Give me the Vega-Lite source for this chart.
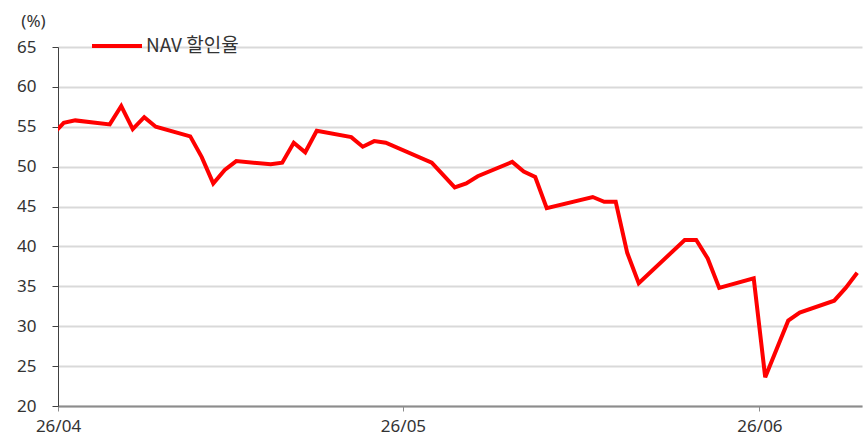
{
  "$schema": "https://vega.github.io/schema/vega-lite/v6.json",
  "width": 804,
  "height": 359,
  "padding": {"left": 58, "top": 47, "right": 2, "bottom": 32},
  "autosize": {"type": "none"},
  "background": "white",
  "data": {
    "values": [
      {"date": "2026-04-01", "v": 54.0},
      {"date": "2026-04-02", "v": 55.5},
      {"date": "2026-04-03", "v": 55.8},
      {"date": "2026-04-06", "v": 55.3},
      {"date": "2026-04-07", "v": 57.6},
      {"date": "2026-04-08", "v": 54.7},
      {"date": "2026-04-09", "v": 56.2},
      {"date": "2026-04-10", "v": 55.0},
      {"date": "2026-04-13", "v": 53.8},
      {"date": "2026-04-14", "v": 51.2},
      {"date": "2026-04-15", "v": 47.9},
      {"date": "2026-04-16", "v": 49.6},
      {"date": "2026-04-17", "v": 50.7},
      {"date": "2026-04-20", "v": 50.3},
      {"date": "2026-04-21", "v": 50.5},
      {"date": "2026-04-22", "v": 53.0},
      {"date": "2026-04-23", "v": 51.8},
      {"date": "2026-04-24", "v": 54.5},
      {"date": "2026-04-27", "v": 53.7},
      {"date": "2026-04-28", "v": 52.5},
      {"date": "2026-04-29", "v": 53.2},
      {"date": "2026-04-30", "v": 53.0},
      {"date": "2026-05-04", "v": 50.5},
      {"date": "2026-05-06", "v": 47.4},
      {"date": "2026-05-07", "v": 47.9},
      {"date": "2026-05-08", "v": 48.8},
      {"date": "2026-05-11", "v": 50.6},
      {"date": "2026-05-12", "v": 49.4},
      {"date": "2026-05-13", "v": 48.7},
      {"date": "2026-05-14", "v": 44.8},
      {"date": "2026-05-18", "v": 46.2},
      {"date": "2026-05-19", "v": 45.6},
      {"date": "2026-05-20", "v": 45.6},
      {"date": "2026-05-21", "v": 39.2},
      {"date": "2026-05-22", "v": 35.4},
      {"date": "2026-05-26", "v": 40.8},
      {"date": "2026-05-27", "v": 40.8},
      {"date": "2026-05-28", "v": 38.5},
      {"date": "2026-05-29", "v": 34.8},
      {"date": "2026-06-01", "v": 36.0},
      {"date": "2026-06-02", "v": 23.6},
      {"date": "2026-06-04", "v": 30.7},
      {"date": "2026-06-05", "v": 31.7},
      {"date": "2026-06-08", "v": 33.2},
      {"date": "2026-06-09", "v": 34.8},
      {"date": "2026-06-10", "v": 36.7}
    ]
  },
  "mark": {"type": "line", "strokeWidth": 4, "clip": true, "strokeJoin": "miter", "strokeMiterLimit": 3},
  "encoding": {
    "x": {
      "field": "date",
      "type": "temporal",
      "scale": {
        "type": "utc",
        "domain": [
          {"year": 2026, "month": 4, "date": 1, "hours": 12, "utc": true},
          {"year": 2026, "month": 6, "date": 10, "hours": 10, "utc": true}
        ]
      },
      "axis": {
        "title": null,
        "values": [
          {"year": 2026, "month": 4, "date": 1, "hours": 12, "utc": true},
          {"year": 2026, "month": 5, "date": 1, "hours": 12, "utc": true},
          {"year": 2026, "month": 6, "date": 1, "hours": 12, "utc": true}
        ],
        "labelExpr": "utcFormat(datum.value, '%y/%m')",
        "grid": false,
        "domainColor": "#8c8c8c",
        "domainWidth": 2,
        "tickColor": "#8c8c8c",
        "tickSize": 5,
        "tickWidth": 1,
        "labelPadding": 7,
        "labelFont": "Noto Sans",
        "labelFontSize": 17,
        "labelColor": "#333333",
        "labelFlush": false
      }
    },
    "y": {
      "field": "v",
      "type": "quantitative",
      "scale": {"domain": [20, 65], "nice": false, "zero": false},
      "axis": {
        "values": [20, 25, 30, 35, 40, 45, 50, 55, 60, 65],
        "title": "(%)",
        "titleAngle": 0,
        "titleX": -25,
        "titleY": -26,
        "titleAlign": "center",
        "titleBaseline": "middle",
        "titleFont": "Noto Sans",
        "titleFontSize": 17,
        "titleFontWeight": "normal",
        "titleColor": "#333333",
        "grid": true,
        "gridColor": "#d9d9d9",
        "gridWidth": 2,
        "domainColor": "#404040",
        "domainWidth": 1,
        "tickColor": "#404040",
        "tickSize": 6,
        "labelPadding": 16,
        "labelFont": "Noto Sans",
        "labelFontSize": 17,
        "labelColor": "#333333"
      }
    },
    "color": {
      "datum": "NAV 할인율",
      "type": "nominal",
      "scale": {"range": ["#ff0000"]},
      "legend": {
        "title": null,
        "orient": "none",
        "legendX": 32,
        "legendY": -28,
        "padding": 0,
        "symbolType": "stroke",
        "symbolSize": 2500,
        "symbolStrokeWidth": 4,
        "labelOffset": 2,
        "labelFont": "Noto Sans CJK KR",
        "labelFontSize": 19,
        "labelColor": "#333333"
      }
    }
  },
  "config": {"view": {"stroke": null}}
}
